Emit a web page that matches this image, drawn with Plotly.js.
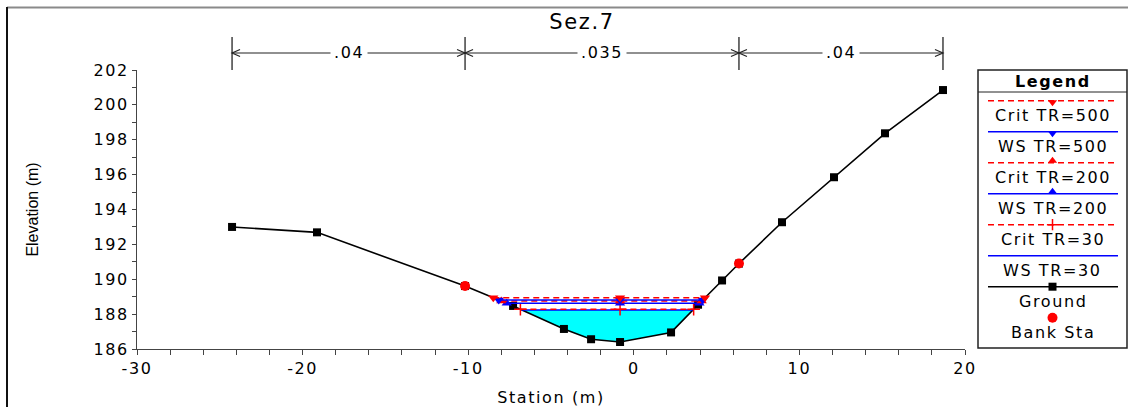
<!DOCTYPE html>
<html>
<head>
<meta charset="utf-8">
<script src="https://cdn.plot.ly/plotly-3.0.1.min.js"></script>
<style>
html,body{margin:0;padding:0;background:#ffffff;}
svg text{letter-spacing:1.6px;}
svg text.ytitle{letter-spacing:0px;}
</style>
</head>
<body>
<div id="chart" style="width:1128px;height:407px;"></div>
<script>
// ---------------- data ----------------
const chartTitle = 'Sez.7';
const groundStation = [-24.26, -19.13, -10.19, -7.29, -4.22, -2.58, -0.83, 2.25, 3.88, 5.33, 6.35, 8.95, 12.09, 15.17, 18.67];
const groundElev    = [193.0, 192.69, 189.61, 188.47, 187.15, 186.56, 186.4, 186.95, 188.54, 189.93, 190.9, 193.27, 195.85, 198.37, 200.85];
const bankStationIdx = [2, 10];
const profileNames = ['Crit TR=500', 'WS TR=500', 'Crit TR=200', 'WS TR=200', 'Crit TR=30', 'WS TR=30'];
const profileElev  = [188.94, 188.81, 188.75, 188.62, 188.28, 188.24];
const nValues = ['.04', '.035', '.04'];
const xTickVals = [-30, -20, -10, 0, 10, 20];
const xTickText = ['-30', '-20', '-10', '0', '10', '20'];
const yTickVals = [186, 188, 190, 192, 194, 196, 198, 200, 202];
const yTickText = ['186', '188', '190', '192', '194', '196', '198', '200', '202'];

// ---------------- styles ----------------
const FONT = 'DejaVu Sans';
const profileStyle = [
  {color: 'red',  dash: '6px,4px', symbol: 'triangle-down'},
  {color: 'blue', dash: 'solid',   symbol: 'triangle-down'},
  {color: 'red',  dash: '6px,4px', symbol: 'triangle-up'},
  {color: 'blue', dash: 'solid',   symbol: 'triangle-up'},
  {color: 'red',  dash: '6px,4px', symbol: 'cross-thin'},
  {color: 'blue', dash: 'solid',   symbol: null}
];

// pixel geometry of the plot box
const G = {W: 1128, H: 407, L: 137, R: 965, T: 70, B: 349};
const paperW = G.W - G.L;           // margin r = 0
const plotH = G.B - G.T;
const pxX = px => (px - G.L) / paperW;
const pxY = py => (G.B - py) / plotH;
const xRange = [xTickVals[0], xTickVals[xTickVals.length - 1]];
const yRange = [yTickVals[0], yTickVals[yTickVals.length - 1]];
const unitPx = (G.R - G.L) / (xRange[1] - xRange[0]);

// ---------------- helpers ----------------
function waterExtent(level) {
  let im = 0;
  for (let i = 1; i < groundElev.length; i++) if (groundElev[i] < groundElev[im]) im = i;
  let i = im;
  while (i > 0 && groundElev[i - 1] < level) i--;
  let j = im;
  while (j < groundElev.length - 1 && groundElev[j + 1] < level) j++;
  const lerp = (a, b) => {
    const t = (level - groundElev[a]) / (groundElev[b] - groundElev[a]);
    return groundStation[a] + t * (groundStation[b] - groundStation[a]);
  };
  return {xl: lerp(i - 1, i), xr: lerp(j + 1, j), xm: groundStation[im], i: i, j: j};
}

const traces = [];

// water fill (lowest water surface)
{
  const k = profileNames.length - 1;
  const lv = profileElev[k];
  const e = waterExtent(lv);
  const fx = [e.xl], fy = [lv];
  for (let q = e.i; q <= e.j; q++) { fx.push(groundStation[q]); fy.push(groundElev[q]); }
  fx.push(e.xr); fy.push(lv); fx.push(e.xl); fy.push(lv);
  traces.push({x: fx, y: fy, mode: 'lines', fill: 'toself', fillcolor: '#00FFFF',
    line: {width: 0, color: '#00FFFF'}, hoverinfo: 'skip', showlegend: false});
}

// ground
traces.push({x: groundStation, y: groundElev, mode: 'lines+markers',
  line: {color: 'black', width: 1.6},
  marker: {symbol: 'square', size: 8, color: 'black'}, showlegend: false, hoverinfo: 'skip'});

// bank stations
traces.push({x: bankStationIdx.map(i => groundStation[i]), y: bankStationIdx.map(i => groundElev[i]),
  mode: 'markers', marker: {symbol: 'circle', size: 10, color: 'red'}, showlegend: false, hoverinfo: 'skip'});

// water surfaces (draw low to high)
for (let k = profileNames.length - 1; k >= 0; k--) {
  const lv = profileElev[k];
  const e = waterExtent(lv);
  const st = profileStyle[k];
  const tr = {x: [e.xl, e.xm, e.xr], y: [lv, lv, lv], name: profileNames[k],
    mode: st.symbol ? 'lines+markers' : 'lines',
    line: {color: st.color, dash: st.dash, width: 1.5}, showlegend: false, hoverinfo: 'skip'};
  if (st.symbol) {
    tr.marker = st.symbol === 'cross-thin'
      ? {symbol: 'cross-thin', size: 9, color: st.color, line: {color: st.color, width: 1.5}}
      : {symbol: st.symbol, size: 9, color: st.color};
  }
  traces.push(tr);
}

// ---------------- custom legend (on x2/y2 pixel axes) ----------------
const LG = {L: 978, R: 1127, T: 70, B: 348};
const lgW = LG.R - LG.L, lgH = LG.B - LG.T;
const legendLabels = profileNames.concat(['Ground', 'Bank Sta']);
const legendStyles = profileStyle.concat([
  {color: 'black', dash: 'solid', symbol: 'square'},
  {color: 'red', dash: null, symbol: 'circle'}
]);
const annotations = [];
const rowY0 = 30.7, rowStep = 31, sampleX = [10, 140], midX = lgW / 2;
legendLabels.forEach((lab, r) => {
  const ly = rowY0 + rowStep * r;
  const st = legendStyles[r];
  if (st.dash) {
    traces.push({x: sampleX, y: [ly, ly], xaxis: 'x2', yaxis: 'y2', mode: 'lines',
      line: {color: st.color, dash: st.dash, width: 1.5}, showlegend: false, hoverinfo: 'skip'});
  }
  if (st.symbol) {
    let my = ly;
    if (st.symbol === 'triangle-down') my = ly + 1.5;
    if (st.symbol === 'triangle-up') my = ly - 2;
    const m = st.symbol === 'cross-thin'
      ? {symbol: 'cross-thin', size: 8, color: st.color, line: {color: st.color, width: 1.5}}
      : {symbol: st.symbol, size: st.symbol === 'circle' ? 10 : 8, color: st.color};
    traces.push({x: [midX], y: [my], xaxis: 'x2', yaxis: 'y2', mode: 'markers',
      marker: m, showlegend: false, hoverinfo: 'skip'});
  }
  annotations.push({xref: 'x2', yref: 'y2', x: midX, y: ly + 14.5, text: lab, showarrow: false,
    xanchor: 'center', yanchor: 'middle', font: {family: FONT, size: 16, color: 'black'}});
});
annotations.push({xref: 'x2', yref: 'y2', x: midX, y: 11, text: '<b>Legend</b>', showarrow: false,
  xanchor: 'center', yanchor: 'middle', font: {family: FONT, size: 16, color: 'black'}});

// ---------------- shapes ----------------
const shapes = [];
// outer frame
shapes.push({type: 'line', xref: 'paper', yref: 'paper', x0: pxX(7), x1: pxX(1128), y0: pxY(7.5), y1: pxY(7.5),
  line: {color: '#8a8a8a', width: 2}});
shapes.push({type: 'line', xref: 'paper', yref: 'paper', x0: pxX(7), x1: pxX(7), y0: pxY(7), y1: pxY(407),
  line: {color: '#111111', width: 2}});
// legend box
shapes.push({type: 'rect', xref: 'x2 domain', yref: 'y2 domain', x0: 0, x1: 1, y0: 0, y1: 1,
  line: {color: '#222222', width: 1.5}});
shapes.push({type: 'line', xref: 'x2 domain', yref: 'y2 domain', x0: 0, x1: 1, y0: 1 - 22 / lgH, y1: 1 - 22 / lgH,
  line: {color: '#222222', width: 1}});

// Manning's n dimension lines
const nBreaks = [groundStation[0], groundStation[bankStationIdx[0]], groundStation[bankStationIdx[1]], groundStation[groundStation.length - 1]];
const dimY = pxY(53), tickTop = pxY(37), tickBot = pxY(70);
const al = 8 / unitPx, ah = 3.5 / plotH;
nBreaks.forEach(b => {
  shapes.push({type: 'line', xref: 'x', yref: 'paper', x0: b, x1: b, y0: tickBot, y1: tickTop,
    line: {color: '#111111', width: 1.2}});
});
nValues.forEach((v, s) => {
  const a = nBreaks[s], b = nBreaks[s + 1];
  shapes.push({type: 'line', xref: 'x', yref: 'paper', x0: a, x1: b, y0: dimY, y1: dimY,
    line: {color: '#222222', width: 1.2}});
  shapes.push({type: 'path', xref: 'x', yref: 'paper',
    path: `M ${a + al} ${dimY + ah} L ${a} ${dimY} L ${a + al} ${dimY - ah}`, line: {color: '#222222', width: 1.2}});
  shapes.push({type: 'path', xref: 'x', yref: 'paper',
    path: `M ${b - al} ${dimY + ah} L ${b} ${dimY} L ${b - al} ${dimY - ah}`, line: {color: '#222222', width: 1.2}});
  annotations.push({xref: 'x', yref: 'paper', x: (a + b) / 2, y: dimY, text: v, showarrow: false,
    xanchor: 'center', yanchor: 'middle', bgcolor: 'white', borderpad: 3,
    font: {family: FONT, size: 16, color: 'black'}});
});

// ---------------- layout ----------------
const axFont = {family: FONT, size: 16, color: 'black'};
const layout = {
  width: G.W, height: G.H,
  margin: {l: G.L, r: 0, t: G.T, b: G.H - G.B, pad: 0},
  paper_bgcolor: 'white', plot_bgcolor: 'white',
  showlegend: false,
  title: {text: chartTitle, font: {family: FONT, size: 21, color: 'black'},
    xref: 'container', yref: 'container', x: 582 / G.W, xanchor: 'center', y: 1 - 22 / G.H, yanchor: 'middle'},
  xaxis: {domain: [0, (G.R - G.L) / paperW], range: xRange, tickmode: 'array', tickvals: xTickVals, ticktext: xTickText,
    ticks: 'outside', ticklen: 5, tickwidth: 1, tickcolor: '#444444',
    minor: {dtick: 2, tick0: xRange[0], ticks: 'outside', ticklen: 5, tickwidth: 1, tickcolor: '#444444', showgrid: false},
    showline: true, linecolor: '#444444', linewidth: 1, showgrid: false, zeroline: false,
    tickfont: axFont, anchor: 'y', fixedrange: true,
    title: {text: 'Station (m)', font: axFont, standoff: 15}},
  yaxis: {domain: [0, 1], range: yRange, tickmode: 'array', tickvals: yTickVals, ticktext: yTickText,
    ticks: 'outside', ticklen: 4, tickwidth: 1, tickcolor: '#444444',
    minor: {dtick: 1, tick0: yRange[0], ticks: 'outside', ticklen: 4, tickwidth: 1, tickcolor: '#444444', showgrid: false},
    showline: true, linecolor: '#444444', linewidth: 1, showgrid: false, zeroline: false,
    tickfont: axFont, anchor: 'x', fixedrange: true,
    title: {text: 'Elevation (m)', font: {family: 'Liberation Sans', size: 16, color: 'black'}, standoff: 50}},
  xaxis2: {domain: [pxX(LG.L), pxX(LG.R)], range: [0, lgW], visible: false, anchor: 'y2', fixedrange: true},
  yaxis2: {domain: [pxY(LG.B), pxY(LG.T)], range: [lgH, 0], visible: false, anchor: 'x2', fixedrange: true},
  shapes: shapes,
  annotations: annotations
};

Plotly.newPlot('chart', traces, layout, {staticPlot: true, displayModeBar: false});
</script>
</body>
</html>
